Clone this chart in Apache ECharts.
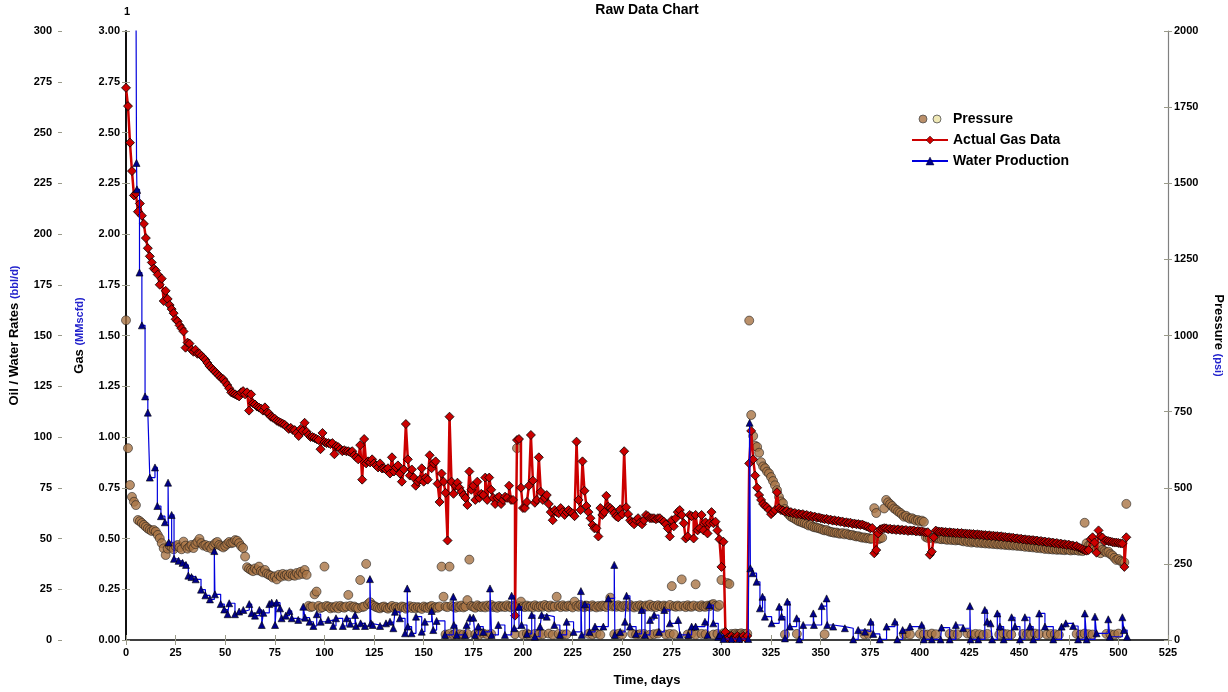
<!DOCTYPE html>
<html><head><meta charset="utf-8">
<script src="https://cdn.jsdelivr.net/npm/echarts@6/dist/echarts.min.js"></script>
<style>html,body{margin:0;padding:0;background:#fff}#c{width:1228px;height:692px}</style>
</head><body><div id="c"></div>
<script>
// Gas rate (MMscfd), one value per day starting at day 0
const gasRate = [
2.72,2.63,2.45,2.31,2.19,2.20,2.11,2.15,2.09,2.05,
1.98,1.93,1.89,1.86,1.83,1.82,1.80,1.75,1.78,1.67,
1.72,1.68,1.65,1.63,1.61,1.58,1.57,1.55,1.535,1.52,
1.44,1.465,1.46,1.43,1.42,1.43,1.41,1.41,1.40,1.39,
1.38,1.365,1.35,1.34,1.33,1.32,1.31,1.30,1.29,1.285,
1.27,1.256,1.24,1.22,1.215,1.21,1.205,1.20,1.22,1.226,
1.21,1.22,1.13,1.21,1.166,1.16,1.15,1.145,1.14,1.13,
1.146,1.12,1.117,1.10,1.095,1.09,1.08,1.075,1.07,1.065,
1.06,1.05,1.04,1.045,1.035,1.034,1.02,1.005,1.04,1.03,
1.07,1.026,1.01,1.00,1.00,0.995,0.99,0.985,0.94,1.02,
0.975,0.97,0.97,0.965,0.97,0.915,0.955,0.95,0.94,0.93,
0.935,0.93,0.93,0.925,0.93,0.91,0.90,0.89,0.96,0.79,
0.99,0.87,0.88,0.875,0.89,0.87,0.86,0.85,0.87,0.845,
0.846,0.84,0.846,0.82,0.90,0.83,0.85,0.86,0.82,0.78,
0.84,1.064,0.89,0.81,0.84,0.80,0.76,0.78,0.79,0.846,
0.78,0.80,0.79,0.91,0.846,0.87,0.88,0.77,0.68,0.82,
0.78,0.725,0.49,1.10,0.78,0.72,0.76,0.775,0.75,0.73,
0.714,0.70,0.665,0.83,0.74,0.76,0.69,0.78,0.70,0.72,
0.714,0.80,0.69,0.80,0.74,0.70,0.67,0.70,0.706,0.67,
0.69,0.706,0.70,0.76,0.69,0.69,0.12,0.985,0.99,0.75,
0.65,0.65,0.68,0.76,1.01,0.785,0.676,0.69,0.90,0.73,
0.69,0.70,0.714,0.67,0.63,0.59,0.64,0.63,0.624,0.65,
0.63,0.616,0.63,0.64,0.63,0.624,0.61,0.977,0.69,0.64,
0.88,0.735,0.66,0.63,0.60,0.567,0.55,0.55,0.51,0.65,
0.616,0.63,0.71,0.657,0.65,0.64,0.624,0.61,0.604,0.644,
0.62,0.93,0.654,0.62,0.59,0.58,0.57,0.59,0.60,0.58,
0.57,0.59,0.616,0.61,0.60,0.60,0.60,0.595,0.60,0.60,
0.59,0.583,0.57,0.55,0.51,0.59,0.56,0.60,0.63,0.64,
0.616,0.575,0.50,0.51,0.616,0.61,0.50,0.616,0.54,0.55,
0.616,0.54,0.58,0.525,0.575,0.63,0.575,0.583,0.54,0.496,
0.36,0.484,0.04,0.01,0.01,0.02,0.01,0.01,0.02,0.01,
0.01,0.02,0.01,0.02,0.87,1.03,0.89,0.81,0.75,0.714,
0.69,0.67,0.66,0.654,0.64,0.62,0.63,0.64,0.728,0.649,
0.64,0.638,0.632,0.636,0.628,0.63,0.624,0.626,0.62,0.622,
0.618,0.62,0.614,0.616,0.61,0.612,0.606,0.608,0.602,0.604,
0.60,0.598,0.595,0.597,0.591,0.593,0.588,0.59,0.585,0.587,
0.582,0.584,0.578,0.58,0.576,0.578,0.572,0.574,0.57,0.571,
0.567,0.569,0.564,0.56,0.557,0.55,0.552,0.427,0.443,0.525,
0.545,0.548,0.551,0.55,0.546,0.548,0.544,0.546,0.542,0.545,
0.541,0.543,0.54,0.542,0.537,0.54,0.538,0.539,0.535,0.537,
0.534,0.536,0.532,0.53,0.531,0.42,0.435,0.506,0.539,0.535,
0.533,0.534,0.531,0.532,0.529,0.531,0.528,0.529,0.526,0.528,
0.525,0.527,0.524,0.525,0.522,0.524,0.521,0.522,0.519,0.521,
0.518,0.519,0.516,0.517,0.514,0.516,0.512,0.514,0.511,0.512,
0.509,0.511,0.507,0.508,0.505,0.506,0.503,0.504,0.50,0.501,
0.497,0.499,0.495,0.496,0.493,0.494,0.491,0.492,0.489,0.49,
0.486,0.488,0.484,0.485,0.481,0.483,0.479,0.48,0.476,0.478,
0.473,0.475,0.471,0.472,0.468,0.47,0.465,0.466,0.461,0.463,
0.456,0.452,0.447,0.442,0.44,0.443,0.496,0.506,0.48,0.43,
0.54,0.51,0.505,0.485,0.49,0.487,0.485,0.482,0.48,0.48,
0.478,0.476,0.475,0.36,0.506
];

// Pressure (psi), one reading per day starting at day 0
const pressure = [
1050,630,509,470,454,443,394,390,384,378,
372,366,362,358,361,356,345,334,318,301,
279,300,310,305,298,308,312,304,298,323,
310,300,306,312,302,315,322,332,318,310,
312,305,309,300,310,318,322,312,308,304,
309,316,322,318,320,328,326,318,308,302,
274,239,234,230,226,235,229,241,226,222,
230,218,214,211,205,209,199,214,208,217,
211,215,209,218,213,211,220,214,224,217,
230,214,112,108,110,150,159,112,105,108,
241,112,110,104,108,106,111,104,112,108,
106,110,148,112,107,110,106,104,197,108,
110,250,118,124,115,112,108,106,104,108,
110,106,103,107,112,105,109,104,106,110,
108,103,107,111,105,109,104,108,106,102,
110,107,105,109,112,104,108,106,110,241,
142,110,108,241,112,109,106,111,108,113,
107,110,131,264,112,109,106,114,110,108,
111,107,113,109,115,108,110,106,112,109,
111,108,114,110,107,113,109,630,112,126,
110,108,113,109,111,107,114,110,108,112,
109,115,111,107,113,109,110,142,112,108,
114,110,109,113,111,107,126,112,109,115,
110,108,113,111,109,114,110,107,112,109,
113,111,108,115,139,110,112,109,114,110,
108,113,111,109,115,110,107,112,109,114,
111,108,113,110,116,109,112,108,114,111,
109,113,110,108,115,177,111,109,113,110,
199,112,108,114,110,109,113,183,111,108,
114,110,109,113,111,116,118,112,109,115,
197,22,20,187,184,20,18,21,19,20,
22,18,20,21,1049,739,670,638,634,615,
584,570,564,553,547,535,522,508,492,470,
455,449,430,420,412,405,402,398,394,390,
388,385,383,380,376,378,372,370,369,367,
365,362,360,361,357,355,354,352,353,350,
349,351,347,350,346,344,345,342,340,341,
338,336,337,334,335,332,333,433,417,331,
334,336,432,460,452,446,440,432,428,422,
418,412,405,408,402,398,400,396,392,394,
389,392,388,338,335,337,334,336,333,335,
332,331,333,330,329,332,328,330,327,329,
328,326,324,327,322,325,320,323,321,319,
322,318,320,317,319,316,318,315,317,314,
316,313,315,312,314,311,313,310,312,309,
311,308,310,306,309,305,307,304,306,302,
305,301,303,299,302,298,300,297,299,296,
298,296,297,295,298,296,294,297,295,296,
293,295,292,385,318,310,312,305,300,296,
306,285,296,292,288,290,282,278,270,263,
266,260,257,255,447
];

// Extra near-zero pressure readings [day, psi]
const pressureLow = [
[161,18],[163,20],[165,17],[166,21],[168,19],[170,18],[172,20],[176,19],[178,17],[180,21],
[182,18],[184,20],[196,19],[200,18],[202,21],[203,17],[206,20],[208,18],[210,19],[213,21],
[215,17],[218,20],[220,18],[222,19],[233,20],[235,18],[237,21],[239,17],[246,19],[248,20],
[250,18],[255,21],[257,18],[259,19],[261,20],[264,17],[266,19],[268,21],[272,18],[274,20],
[276,19],[283,18],[285,21],[287,17],[290,20],[292,19],[296,18],[298,20],[332,18],[338,20],
[352,19],[372,18],[374,20],[392,19],[393,21],[395,18],[400,20],[402,19],[404,18],[406,21],
[408,19],[415,20],[417,18],[419,19],[424,21],[426,18],[428,20],[430,19],[432,17],[434,20],
[440,18],[442,21],[444,19],[446,18],[452,20],[454,19],[456,18],[458,21],[460,19],[464,18],
[466,20],[468,19],[470,17],[479,20],[481,18],[483,21],[485,19],[487,18],[494,20],[496,19],
[498,18],[500,21]
];

// Water production [day, bbl/d]
const water = [
[5.0,330],[5.3,235],[5.5,222],[6.8,181],[8.0,155],[9.6,120],[11.0,112],[12.0,80],[14.6,85],[15.8,66],
[17.6,61],[19.6,58],[21.2,77.5],[21.5,48],[23.0,61.6],[24.2,40],[26.5,39],[28.5,38],[30.2,37],[31.4,31.7],
[33.0,31],[35.1,29.9],[37.8,24.8],[40.0,22],[42.3,20],[44.5,43.8],[44.8,22.5],[47.7,17.7],[49.5,15],[51.2,12.7],
[52.0,18.1],[54.9,12.7],[57.0,14],[59.1,14.8],[62.1,17.7],[63.3,13.2],[65.0,12],[67.2,14.8],[68.4,7.4],[69.2,13.4],
[72.2,17.7],[73.4,18.4],[75.1,7.4],[75.9,18.4],[77.6,15.6],[78.4,10.7],[80.5,12],[82.3,14.3],[83.5,10.7],[86.8,9.9],
[89.3,16.4],[90.2,11],[92.5,9],[94.4,6.9],[96.1,12.7],[98.1,9],[101.9,9.9],[104.4,6.9],[105.8,10.7],[109.2,6.9],
[111.2,10.7],[113.0,8],[115.4,12.3],[115.9,6.9],[118.2,8.2],[120.4,6.9],[122.9,30],[123.4,8.2],[124.3,7.4],[128.0,6.9],
[131.0,8.2],[133.0,9],[134.7,5.8],[135.5,13.9],[138.0,10.7],[140.6,3.3],[141.7,25.4],[142.0,6.6],[143.9,3.3],[146.1,11.5],
[149.0,4.1],[150.6,9],[154.0,14.3],[154.8,4.9],[156.5,9.4],[160.7,2.5],[164.9,21.3],[165.2,7.4],[166.6,2.5],[170.8,2.5],
[171.6,7.4],[173.3,11],[175.0,11],[175.8,2.5],[177.5,6.6],[180.0,4],[183.4,25.4],[184.2,2.5],[187.6,7.4],[190.9,2.5],
[194.3,21.8],[195.6,5.8],[198.0,16.4],[199.3,7.4],[202.0,3],[204.4,12.3],[206.0,1.6],[208.6,6.6],[209.4,12.3],[212.0,11.5],
[215.8,7.4],[218.6,2.5],[222.0,9],[225.5,4],[229.2,24.1],[229.6,2.5],[231.2,17.6],[233.5,4],[236.3,6.6],[240.5,6.6],
[243.0,20.5],[246.0,37],[246.3,2.5],[249.0,4],[251.4,9],[252.2,21.8],[253.9,6.6],[257.0,3],[259.8,14.8],[261.5,2.5],
[264.0,9.9],[266.1,12.3],[268.5,4],[271.2,14.8],[274.0,8.2],[278.2,9.9],[279.1,2.5],[283.3,2.5],[285.0,6.6],[287.0,6.6],
[291.7,9],[293.0,2.5],[293.9,17.2],[295.9,8.2],[298.4,1.6],[299.2,2.5],[301.0,0.5],[305.0,0.5],[309.0,0.5],[313.5,0.5],
[314.2,107],[314.6,35.3],[315.7,32.9],[317.7,28.7],[319.4,15.6],[320.7,21.3],[321.9,11.5],[325.3,8.2],[329.1,16.4],[330.3,11.5],
[332.0,0.8],[333.2,18.9],[334.5,6.6],[337.9,10.7],[339.2,0.3],[341.2,7.4],[346.3,13.1],[346.6,7.4],[350.5,16.7],[353.0,20.5],
[353.3,7.4],[356.3,6.6],[362.2,5.8],[366.4,0.3],[368.9,4.9],[372.3,4.1],[375.2,9],[376.5,3],[379.8,0.3],[383.2,6.6],
[387.4,9],[388.6,0.3],[391.3,4.9],[395.0,6.6],[400.9,7.4],[402.0,0.3],[406.0,0.3],[410.4,0.3],[410.9,6.1],[415.0,0.3],
[418.1,7.4],[421.8,5.8],[425.2,16.7],[425.5,0.3],[429.4,0.3],[432.7,14.8],[433.9,9],[435.6,8.2],[436.4,0.3],[439.0,13.1],
[440.3,6.6],[442.2,0.3],[446.2,11.2],[447.9,6.6],[450.4,0.3],[452.9,11.2],[455.4,6.6],[457.1,0.3],[460.1,13.1],[463.0,6.6],
[467.2,0.3],[471.4,6.6],[473.5,8.2],[477.2,6.9],[479.7,0.3],[483.1,13.1],[484.0,0.3],[488.2,11.5],[489.0,3.3],[494.9,10.2],
[495.7,1.6],[502.0,11.2],[502.8,4.9],[504.4,1.6]
];

const F = '"Liberation Sans", Arial, Helvetica, sans-serif';
const TICK = '#9a9a8a';
const BLUE = '#2222cc';
const lab = {fontFamily: F, fontWeight: 'bold', fontSize: 11, color: '#000'};
const BROWN = '#a97445';

const pIcon = 'image://data:image/svg+xml;charset=utf-8,' + encodeURIComponent(
  '<svg xmlns="http://www.w3.org/2000/svg" width="36" height="10" viewBox="0 0 36 10">' +
  '<circle cx="11" cy="5" r="4" fill="' + BROWN + '" stroke="#222" stroke-width="0.8"/>' +
  '<circle cx="25" cy="5" r="4" fill="#ece3a3" stroke="#222" stroke-width="0.8"/></svg>');

const gasData = gasRate.map((v, i) => [i, v]);
const pressData = pressure.map((v, i) => [i, v]).concat(pressureLow);

function dupY(min, max, interval, position, offset) {
  return {type: 'value', min, max, interval, position, offset,
    axisLine: {show: false}, axisLabel: {show: false}, splitLine: {show: false},
    axisTick: {show: true, inside: true, length: 4, lineStyle: {color: TICK}}};
}

const chart = echarts.init(document.getElementById('c'));
chart.setOption({
  animation: false,
  backgroundColor: '#fff',
  textStyle: {fontFamily: F},
  grid: {left: 126, right: 60, top: 31, bottom: 52, containLabel: false, outerBoundsMode: 'none'},
  graphic: [
    {type: 'text', x: 647, y: 3, style: {text: 'Raw Data Chart', font: 'bold 14px ' + F, fill: '#000', textAlign: 'center'}},
    {type: 'text', x: 127, y: 6, style: {text: '1', font: 'bold 11px ' + F, fill: '#000', textAlign: 'center'}}
  ],
  legend: {
    orient: 'vertical', left: 906, top: 107, itemWidth: 36, itemHeight: 10, itemGap: 7,
    textStyle: {fontFamily: F, fontWeight: 'bold', fontSize: 14, color: '#000'},
    data: [
      {name: 'Pressure', icon: pIcon},
      {name: 'Actual Gas Data', itemStyle: {color: '#cc0000', borderColor: '#000', borderWidth: 0.4}},
      {name: 'Water Production', itemStyle: {color: '#00008b', borderColor: '#000', borderWidth: 0.4}}
    ]
  },
  xAxis: [
    {type: 'value', min: 0, max: 525, interval: 25, position: 'bottom',
     axisLine: {lineStyle: {color: '#000', width: 1.5}},
     axisTick: {inside: true, length: 5, lineStyle: {color: TICK}},
     axisLabel: Object.assign({margin: 7}, lab), splitLine: {show: false},
     name: 'Time, days', nameLocation: 'middle', nameGap: 34,
     nameTextStyle: {fontFamily: F, fontWeight: 'bold', fontSize: 13, color: '#000'}},
    {type: 'value', min: 0, max: 525, interval: 25, position: 'bottom',
     axisLine: {show: false}, axisLabel: {show: false}, splitLine: {show: false},
     axisTick: {inside: false, length: 5, lineStyle: {color: TICK}}}
  ],
  yAxis: [
    {type: 'value', min: 0, max: 3, interval: 0.25, position: 'left', offset: 0,
     axisLine: {show: true, lineStyle: {color: '#000', width: 1.5}},
     axisTick: {show: true, inside: false, length: 4, lineStyle: {color: TICK}},
     axisLabel: Object.assign({margin: 6, formatter: v => v.toFixed(2)}, lab),
     splitLine: {show: false},
     name: '{a|Gas }{b|(MMscfd)}', nameLocation: 'middle', nameGap: 40,
     nameTextStyle: {rich: {a: {fontFamily: F, fontWeight: 'bold', fontSize: 13, color: '#000'},
                            b: {fontFamily: F, fontWeight: 'bold', fontSize: 11, color: BLUE}}}},
    {type: 'value', min: 0, max: 300, interval: 25, position: 'left', offset: 68,
     axisLine: {show: true, lineStyle: {color: '#000', width: 1.5}},
     axisTick: {show: true, inside: false, length: 4, lineStyle: {color: TICK}},
     axisLabel: Object.assign({margin: 6}, lab), splitLine: {show: false},
     name: '{a|Oil / Water Rates }{b|(bbl/d)}', nameLocation: 'middle', nameGap: 37,
     nameTextStyle: {rich: {a: {fontFamily: F, fontWeight: 'bold', fontSize: 13, color: '#000'},
                            b: {fontFamily: F, fontWeight: 'bold', fontSize: 11, color: BLUE}}}},
    {type: 'value', min: 0, max: 2000, interval: 250, position: 'right', offset: 0,
     axisLine: {show: true, lineStyle: {color: '#808080', width: 1.2}},
     axisTick: {show: true, inside: false, length: 4, lineStyle: {color: TICK}},
     axisLabel: Object.assign({margin: 6, formatter: v => String(v)}, lab), splitLine: {show: false},
     name: '{a|Pressure }{b|(psi)}', nameLocation: 'middle', nameGap: 44, nameRotate: -90,
     nameTextStyle: {rich: {a: {fontFamily: F, fontWeight: 'bold', fontSize: 13, color: '#000'},
                            b: {fontFamily: F, fontWeight: 'bold', fontSize: 11, color: BLUE}}}},
    dupY(0, 3, 0.25, 'left', 0),
    dupY(0, 300, 25, 'left', 68),
    dupY(0, 2000, 250, 'right', 0)
  ],
  series: [
    {name: 'Pressure', type: 'scatter', xAxisIndex: 0, yAxisIndex: 2, data: pressData,
     symbol: 'circle', symbolSize: 9, z: 2,
     itemStyle: {color: BROWN, borderColor: '#1a1a1a', borderWidth: 0.7}},
    {name: 'Actual Gas Data', type: 'line', xAxisIndex: 0, yAxisIndex: 0, data: gasData,
     step: 'end', symbol: 'diamond', symbolSize: 9, showSymbol: true, z: 3,
     lineStyle: {color: '#cc0000', width: 2.5},
     itemStyle: {color: '#cc0000', borderColor: '#000', borderWidth: 0.8}},
    {name: 'Water Production', type: 'line', xAxisIndex: 0, yAxisIndex: 1, data: water,
     step: 'end', symbol: 'triangle', symbolSize: 7, showSymbol: true, z: 4,
     lineStyle: {color: '#0000dd', width: 1.2},
     itemStyle: {color: '#00008b', borderColor: '#000', borderWidth: 0.6}}
  ]
});
</script></body></html>
